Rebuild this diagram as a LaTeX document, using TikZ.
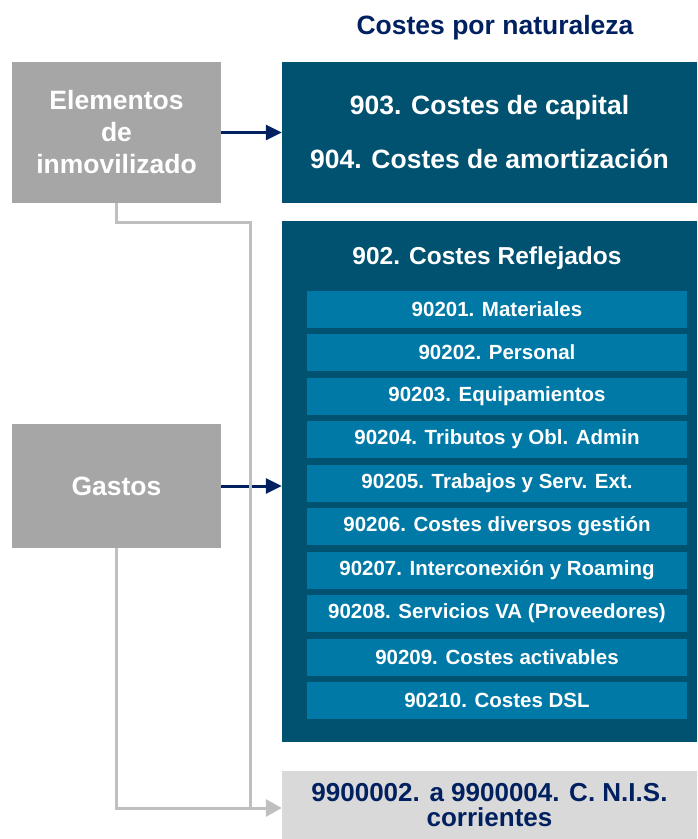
\documentclass[tikz,border=0pt]{standalone}
\usepackage{fontspec}
\setmainfont{Liberation Sans}
\usetikzlibrary{positioning}
\usetikzlibrary{arrows.meta}

\definecolor{navy}{HTML}{002060}
\definecolor{petrol}{HTML}{005270}
\definecolor{azul}{HTML}{0079A6}
\definecolor{gris}{HTML}{A6A6A6}
\definecolor{grisclaro}{HTML}{D9D9D9}
\definecolor{linea}{HTML}{BFBFBF}

\begin{document}
\begin{tikzpicture}[x=1pt, y=-1pt, node distance =43.5pt, on grid,
caja/.style ={rectangle, fill=#1, text=white, inner sep=0pt, align=center},
grande/.style ={font=\bfseries\fontsize{26.5}{32}\selectfont},
sub/.style ={rectangle, fill=azul, text=white, minimum width=380pt, minimum height=37pt, inner sep=0pt, font=\bfseries\fontsize{20.5}{24}\selectfont},
flecha/.style ={-{Triangle[length=16pt,width=15pt]}, navy, line width=3pt},
gline/.style ={linea, line width=3pt}]
\useasboundingbox (0,0) rectangle (697,839);
\node[grande, text=navy] (tit) at (495,28) {Costes por naturaleza};
\node[caja=gris, grande, minimum width=209pt, minimum height=141pt] (elem) at (116.5,132.5) {Elementos\\de\\inmovilizado};
\node[caja=gris, grande, minimum width=209pt, minimum height=124pt] (gastos) at (116.5,486) {Gastos};
\node[caja=petrol, grande, minimum width=415pt, minimum height=141pt] (capam) at (489.5,132.5) {903. Costes de capital\\[22pt]904. Costes de amortización};
\node[caja=petrol, minimum width=415pt, minimum height=521pt] (refl) at (489.5,481.5) {};
\node[text=white, font=\bfseries\fontsize{24.5}{30}\selectfont] (refltit) at (487,258) {902. Costes Reflejados};
\node[sub] (s1) at (497,309) {90201. Materiales};
\node[sub] (s2) [below =of s1] {90202. Personal};
\node[sub] (s3) [below =of s2] {90203. Equipamientos};
\node[sub] (s4) [below =of s3] {90204. Tributos y Obl. Admin};
\node[sub] (s5) [below =of s4] {90205. Trabajos y Serv. Ext.};
\node[sub] (s6) [below =of s5] {90206. Costes diversos gestión};
\node[sub] (s7) [below =of s6] {90207. Interconexión y Roaming};
\node[sub] (s8) [below =of s7] {90208. Servicios VA (Proveedores)};
\node[sub] (s9) [below =of s8] {90209. Costes activables};
\node[sub] (s10) [below =of s9] {90210. Costes DSL};
\node[caja=grisclaro, text=navy, minimum width=415pt, minimum height=68pt, font=\bfseries\fontsize{26}{25}\selectfont] (cnis) at (489.5,805) {9900002. a 9900004. C. N.I.S.\\corrientes};
\coordinate (codo) at (250,808);
% flechas
\draw[flecha] (elem) -- (capam);
\draw[flecha] (gastos) -- (refl.west |- gastos);
\draw[gline] (elem.south) -- ++(0,19) -| (codo);
\draw[gline, -{Triangle[length=16pt,width=17pt]}] (gastos.south) |- (cnis.west |- codo);
\end{tikzpicture}
\end{document}
